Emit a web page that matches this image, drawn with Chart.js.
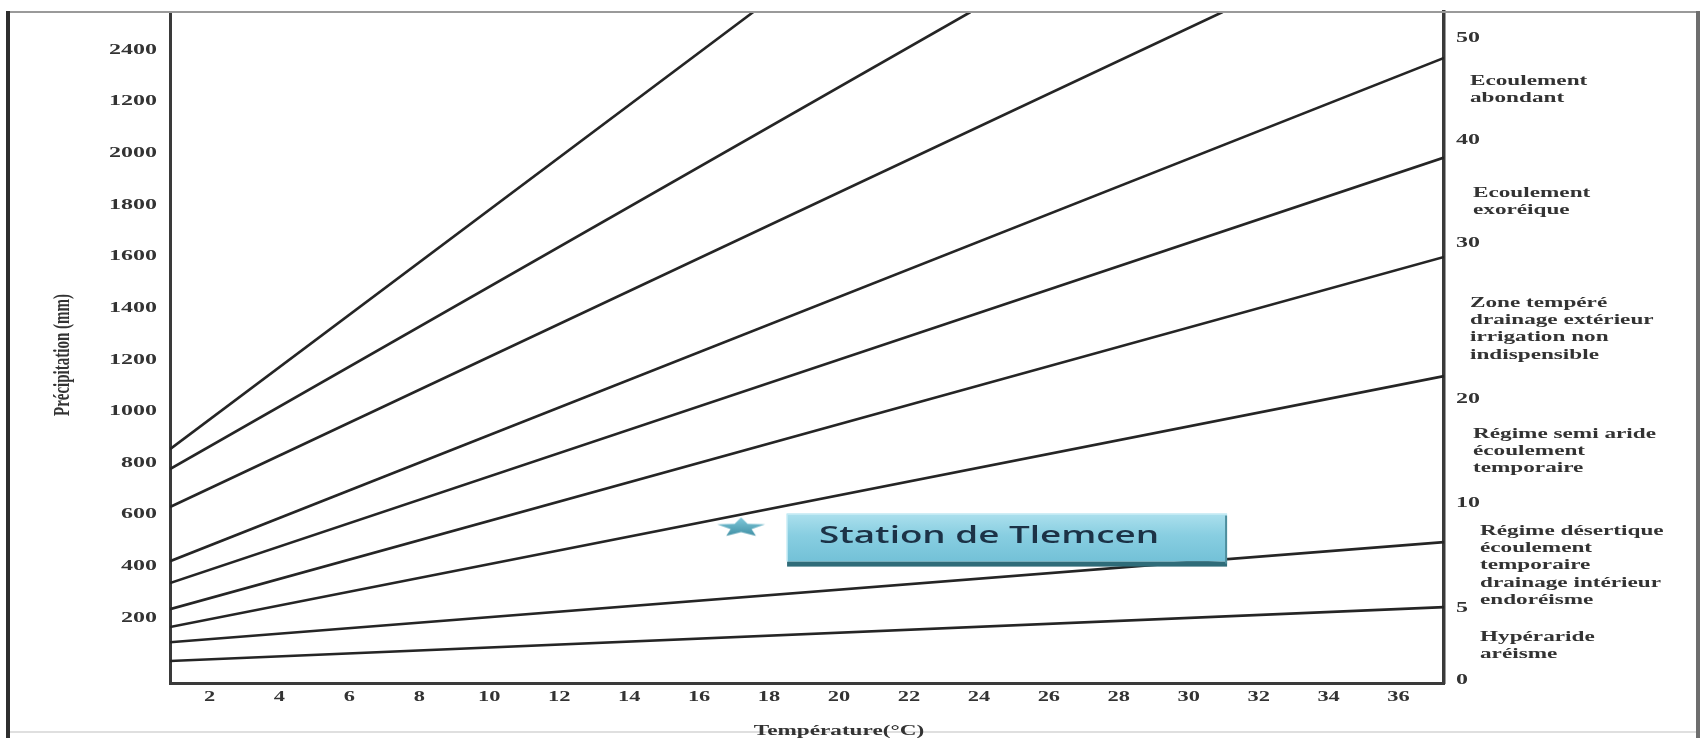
<!DOCTYPE html>
<html lang="fr">
<head>
<meta charset="utf-8">
<title>Abaque de De Martonne – Station de Tlemcen</title>
<script src="https://cdn.jsdelivr.net/npm/chart.js@4.4.1/dist/chart.umd.min.js"></script>
<style>
  html, body { margin: 0; padding: 0; background: #fff; }
  canvas { display: block; }
</style>
</head>
<body>
<canvas id="abaque" width="1703" height="738"></canvas>
<script>
// Temperature axis (°C)
const temperatureTicks = [2, 4, 6, 8, 10, 12, 14, 16, 18, 20, 22, 24, 26, 28, 30, 32, 34, 36];
const temperatureBounds = [0.87, 37.3];

// Precipitation axis (mm)
const precipitationTicks = [200, 400, 600, 800, 1000, 1200, 1400, 1600, 1800, 2000, 2200, 2400];
const precipitationTickLabels = ['200', '400', '600', '800', '1000', '1200', '1400', '1600', '1800', '2000', '1200', '2400'];
const precipitationBounds = [-53, 2547];

// Aridity index scale on the right, with the precipitation level of each label
const aridityTickLabels = ['0', '5', '10', '20', '30', '40', '50'];
const aridityTickLevels = [-42, 237, 644, 1047, 1652, 2051, 2446];

// Iso-index lines: precipitation at the left edge, then where each line leaves the frame
const lineStartP = [853, 776, 629, 419, 334, 233, 164, 105, 32];
const lineEndT = [17.55, 23.76, 30.97, 37.3, 37.3, 37.3, 37.3, 37.3, 37.3];
const lineEndP = [2547, 2547, 2547, 2369, 1983, 1598, 1136, 493, 241];

// Weather station
const stationName = 'Station de Tlemcen';
const stationT = [17.2];
const stationP = [553];

// Climate zones described beside the index scale
const zoneLabels = [
  ['Ecoulement', 'abondant'],
  ['Ecoulement', 'exoréique'],
  ['Zone tempéré', 'drainage extérieur', 'irrigation non', 'indispensible'],
  ['Régime semi aride', 'écoulement', 'temporaire'],
  ['Régime désertique', 'écoulement', 'temporaire', 'drainage intérieur', 'endoréisme'],
  ['Hypéraride', 'aréisme']
];

const xTitle = 'Température(°C)';
const yTitle = 'Précipitation (mm)';

// ---------------------------------------------------------------------------
// Typesetting: all canvas text is set wide (horizontal stretch around its anchor)
const TEXT_STRETCH = 1.6;
function widenCanvasText(c) {
  const plainFill = c.fillText;
  c.fillText = function (text, x, y, maxWidth) {
    const m = this.getTransform();
    const ax = m.a * x + m.c * y + m.e;
    this.save();
    this.setTransform(new DOMMatrix([TEXT_STRETCH, 0, 0, 1, (1 - TEXT_STRETCH) * ax, 0]).multiply(m));
    if (maxWidth === undefined) plainFill.call(this, text, x, y);
    else plainFill.call(this, text, x, y, maxWidth);
    this.restore();
  };
}

const serif = "'Liberation Serif', 'Times New Roman', serif";
const textGrey = '#333333';

// Flattened five-point star marking the station
function makeStarGlyph() {
  const g = document.createElement('canvas');
  g.width = 54; g.height = 24;
  const s = g.getContext('2d');
  s.translate(27, 13);
  s.scale(2.4, 0.98);
  s.beginPath();
  for (let k = 0; k < 10; k++) {
    const r = k % 2 ? 4.6 : 10.5;
    const a = -Math.PI / 2 + k * Math.PI / 5;
    s.lineTo(r * Math.cos(a), r * Math.sin(a));
  }
  s.closePath();
  const grad = s.createLinearGradient(0, -10, 0, 9);
  grad.addColorStop(0, '#7fc8da');
  grad.addColorStop(1, '#3f8fa4');
  s.fillStyle = grad;
  s.fill();
  return g;
}

// Layout of the side notes
const zoneLayout = [
  { x: 1470, y: 81 }, { x: 1473, y: 193 }, { x: 1470, y: 303 },
  { x: 1473, y: 434 }, { x: 1480, y: 531 }, { x: 1480, y: 637 }
];
const zoneLineStep = 17.3;

function drawStationBox(chart) {
  const meta = chart.getDatasetMeta(chart.data.datasets.length - 1);
  const pt = meta.data[0];
  if (!pt) return;
  const c = chart.ctx;
  const left = pt.x + 46, top = pt.y - 13, w = 440, h = 48;
  c.save();
  const g = c.createLinearGradient(0, top, 0, top + h);
  g.addColorStop(0, '#ace0ed');
  g.addColorStop(0.45, '#88cee1');
  g.addColorStop(1, '#73c1d7');
  c.fillStyle = g;
  c.fillRect(left, top, w, h);
  c.fillStyle = '#2f6c79';
  c.fillRect(left, top + h, w, 5);
  c.fillStyle = '#4d8e9d';
  c.fillRect(left + w - 2, top + 2, 2, h);
  c.strokeStyle = '#c2eaf4';
  c.lineWidth = 1.5;
  c.beginPath();
  c.moveTo(left, top + h); c.lineTo(left, top + 0.75); c.lineTo(left + w, top + 0.75);
  c.stroke();
  c.fillStyle = '#1c3246';
  c.font = "600 23px 'Open Sans', 'Noto Sans', sans-serif";
  c.textAlign = 'center';
  c.textBaseline = 'middle';
  c.fillText(stationName, left + 202, top + 23);
  c.restore();
}

function drawFrame(chart) {
  const c = chart.ctx;
  c.save();
  c.lineCap = 'butt';
  c.strokeStyle = '#9a9a9a'; c.lineWidth = 2;
  c.beginPath(); c.moveTo(6, 12); c.lineTo(1700, 12); c.stroke();
  c.strokeStyle = '#d4d4d4'; c.lineWidth = 1.5;
  c.beginPath(); c.moveTo(8, 732); c.lineTo(1698, 732); c.stroke();
  c.strokeStyle = '#2e2e2e'; c.lineWidth = 4;
  c.beginPath(); c.moveTo(8, 11); c.lineTo(8, 738); c.stroke();
  c.strokeStyle = '#6e6e6e'; c.lineWidth = 4;
  c.beginPath(); c.moveTo(1698, 11); c.lineTo(1698, 738); c.stroke();
  c.restore();
}

function drawNotes(chart) {
  const c = chart.ctx;
  const xs = chart.scales.x;
  c.save();
  c.fillStyle = textGrey;
  c.font = 'bold 14.5px ' + serif;
  c.textAlign = 'left';
  c.textBaseline = 'middle';
  zoneLabels.forEach((lines, i) => {
    const pos = zoneLayout[i];
    lines.forEach((t, j) => c.fillText(t, pos.x, pos.y + j * zoneLineStep));
  });

  // axis titles
  c.textAlign = 'center';
  c.fillText(xTitle, xs.getPixelForValue(20), 731);
  c.font = 'bold 15px ' + serif;
  c.translate(63, 355);
  c.rotate(-Math.PI / 2);
  c.fillText(yTitle, 0, 0);
  c.restore();
}

const abaqueNotes = {
  id: 'abaqueNotes',
  beforeDraw(chart) {
    const c = chart.ctx;
    c.save();
    c.fillStyle = '#ffffff';
    c.fillRect(0, 0, chart.width, chart.height);
    c.restore();
  },
  afterDatasetsDraw(chart) { drawStationBox(chart); },
  afterDraw(chart) { drawFrame(chart); drawNotes(chart); }
};

// ---------------------------------------------------------------------------
const canvas = document.getElementById('abaque');
const ctx = canvas.getContext('2d');
widenCanvasText(ctx);

const isoLineSets = lineStartP.map((p, i) => ({
  label: 'I' + (i + 1),
  data: [{ x: temperatureBounds[0], y: p }, { x: lineEndT[i], y: lineEndP[i] }],
  showLine: true,
  borderColor: '#252525',
  borderWidth: 2.6,
  pointRadius: 0,
  pointHoverRadius: 0,
  tension: 0,
  fill: false
}));

const stationSet = {
  label: stationName,
  data: stationT.map((t, i) => ({ x: t, y: stationP[i] })),
  showLine: false,
  pointStyle: makeStarGlyph(),
  pointRadius: 12,
  pointHoverRadius: 12
};

const tickFont = (size) => ({ family: serif, size: size, weight: 'bold', lineHeight: 1.2 });

new Chart(ctx, {
  type: 'scatter',
  data: { datasets: [...isoLineSets, stationSet] },
  options: {
    responsive: false,
    animation: false,
    devicePixelRatio: 1,
    events: [],
    layout: { padding: { top: 12, left: 0, right: 0, bottom: 0 }, autoPadding: false },
    plugins: { legend: { display: false }, tooltip: { enabled: false } },
    scales: {
      x: {
        type: 'linear',
        position: 'bottom',
        min: temperatureBounds[0],
        max: temperatureBounds[1],
        afterBuildTicks: (s) => { s.ticks = temperatureTicks.map((v) => ({ value: v })); },
        afterFit: (s) => { s.height = 55; s.paddingLeft = 0; s.paddingRight = 0; },
        grid: { display: false, drawTicks: false },
        border: { display: true, color: '#3a3a3a', width: 3 },
        ticks: {
          autoSkip: false, maxRotation: 0, minRotation: 0, padding: 6,
          color: textGrey, font: tickFont(14),
          callback: (v) => String(v)
        }
      },
      y: {
        type: 'linear',
        position: 'left',
        min: precipitationBounds[0],
        max: precipitationBounds[1],
        afterBuildTicks: (s) => { s.ticks = precipitationTicks.map((v) => ({ value: v })); },
        afterFit: (s) => { s.width = 170; s.paddingTop = 0; s.paddingBottom = 0; },
        grid: { display: false, drawTicks: false },
        border: { display: true, color: '#3a3a3a', width: 3 },
        ticks: {
          autoSkip: false, padding: 13,
          color: textGrey, font: tickFont(15),
          callback: (v, i) => precipitationTickLabels[i]
        }
      },
      y2: {
        type: 'linear',
        axis: 'y',
        position: 'right',
        min: precipitationBounds[0],
        max: precipitationBounds[1],
        afterBuildTicks: (s) => { s.ticks = aridityTickLevels.map((v) => ({ value: v })); },
        afterFit: (s) => { s.width = 259; s.paddingTop = 0; s.paddingBottom = 0; },
        grid: { display: false, drawTicks: false },
        border: { display: true, color: '#3a3a3a', width: 3.5 },
        ticks: {
          autoSkip: false, padding: 12,
          color: textGrey, font: tickFont(15),
          callback: (v, i) => aridityTickLabels[i]
        }
      }
    }
  },
  plugins: [abaqueNotes]
});
</script>
</body>
</html>
